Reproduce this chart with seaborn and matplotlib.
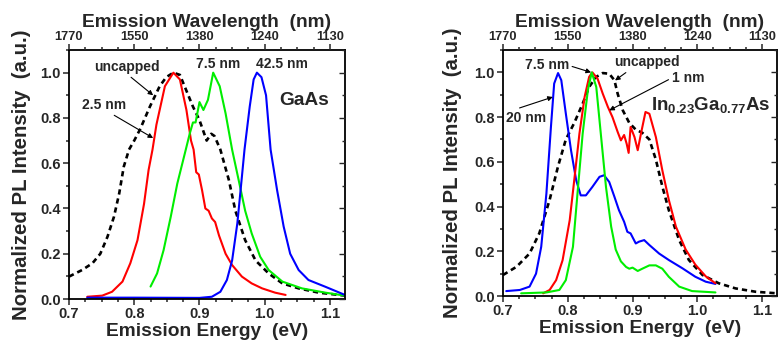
import matplotlib
matplotlib.use("Agg")
import matplotlib.pyplot as plt
import seaborn as sns
from matplotlib.ticker import MultipleLocator

sns.set_style("ticks")
plt.rcParams['font.family'] = ['Liberation Sans', 'DejaVu Sans']
plt.rcParams['font.weight'] = 'bold'
plt.rcParams['axes.labelweight'] = 'bold'
plt.rcParams['mathtext.fontset'] = 'custom'
plt.rcParams['mathtext.rm'] = 'Liberation Sans:bold'
plt.rcParams['mathtext.bf'] = 'Liberation Sans:bold'
plt.rcParams['mathtext.it'] = 'Liberation Sans:bold'

# ---------------- data: GaAs panel ----------------
gaas_uncapped_x = [0.700, 0.720, 0.736, 0.748, 0.759, 0.769, 0.777, 0.784, 0.792, 0.800, 0.809,
                   0.824, 0.839, 0.849, 0.860, 0.870, 0.880, 0.890, 0.900, 0.911, 0.918, 0.923,
                   0.932, 0.945, 0.955, 0.970, 0.986, 1.006, 1.027, 1.052, 1.083, 1.123]
gaas_uncapped_y = [0.099, 0.128, 0.158, 0.200, 0.275, 0.364, 0.467, 0.585, 0.660, 0.700, 0.750,
                   0.850, 0.940, 0.980, 1.000, 0.990, 0.920, 0.850, 0.790, 0.700, 0.730, 0.720,
                   0.660, 0.526, 0.390, 0.260, 0.170, 0.113, 0.069, 0.047, 0.028, 0.015]

gaas_25_x = [0.728, 0.751, 0.766, 0.782, 0.794, 0.805, 0.815, 0.822, 0.828, 0.834, 0.847,
             0.860, 0.870, 0.880, 0.887, 0.891, 0.895, 0.899, 0.904, 0.909, 0.914, 0.919,
             0.924, 0.930, 0.940, 0.950, 0.965, 0.980, 0.996, 1.016, 1.032]
gaas_25_y = [0.010, 0.015, 0.032, 0.077, 0.158, 0.260, 0.420, 0.570, 0.660, 0.770, 0.940,
             1.000, 0.970, 0.835, 0.700, 0.660, 0.560, 0.550, 0.480, 0.400, 0.390, 0.356,
             0.340, 0.280, 0.200, 0.150, 0.099, 0.069, 0.047, 0.028, 0.018]

gaas_75_x = [0.825, 0.835, 0.845, 0.856, 0.866, 0.879, 0.885, 0.890, 0.894, 0.900, 0.906,
             0.913, 0.921, 0.931, 0.940, 0.950, 0.960, 0.970, 0.980, 0.993, 1.006, 1.027,
             1.057, 1.093, 1.123]
gaas_75_y = [0.055, 0.113, 0.216, 0.364, 0.510, 0.660, 0.730, 0.780, 0.780, 0.870, 0.835,
             0.880, 1.000, 0.940, 0.820, 0.660, 0.526, 0.390, 0.290, 0.187, 0.128, 0.077,
             0.047, 0.028, 0.015]

gaas_425_x = [0.728, 0.800, 0.900, 0.919, 0.932, 0.942, 0.950, 0.958, 0.965, 0.969, 0.977,
              0.983, 0.988, 0.995, 1.002, 1.009, 1.019, 1.029, 1.039, 1.052, 1.067, 1.093, 1.123]
gaas_425_y = [0.006, 0.006, 0.005, 0.010, 0.032, 0.084, 0.170, 0.334, 0.540, 0.660, 0.850,
              0.970, 1.000, 0.980, 0.900, 0.660, 0.480, 0.320, 0.200, 0.128, 0.084, 0.054, 0.018]

# ---------------- data: InGaAs panel ----------------
ingaas_uncapped_x = [0.700, 0.721, 0.741, 0.756, 0.772, 0.785, 0.797, 0.810, 0.823, 0.833, 0.844,
                     0.854, 0.864, 0.872, 0.877, 0.885, 0.895, 0.905, 0.915, 0.926, 0.936, 0.946,
                     0.956, 0.972, 0.987, 1.008, 1.033, 1.059, 1.090, 1.123]
ingaas_uncapped_y = [0.094, 0.131, 0.190, 0.280, 0.430, 0.580, 0.700, 0.774, 0.860, 0.935, 0.980,
                     0.997, 0.994, 0.965, 0.905, 0.830, 0.774, 0.744, 0.730, 0.700, 0.610, 0.490,
                     0.384, 0.250, 0.161, 0.094, 0.057, 0.034, 0.019, 0.012]

ingaas_1_x = [0.762, 0.772, 0.782, 0.792, 0.803, 0.810, 0.818, 0.826, 0.833, 0.838, 0.846,
              0.854, 0.862, 0.869, 0.877, 0.882, 0.887, 0.891, 0.894, 0.897, 0.903, 0.908,
              0.913, 0.920, 0.926, 0.936, 0.946, 0.956, 0.967, 0.982, 0.997, 1.013, 1.028]
ingaas_1_y = [0.012, 0.027, 0.071, 0.160, 0.339, 0.518, 0.726, 0.890, 0.980, 1.000, 0.972,
              0.905, 0.845, 0.800, 0.734, 0.696, 0.720, 0.680, 0.640, 0.756, 0.711, 0.652,
              0.726, 0.823, 0.815, 0.711, 0.562, 0.430, 0.310, 0.208, 0.140, 0.088, 0.057]

ingaas_75_x = [0.728, 0.767, 0.787, 0.797, 0.808, 0.815, 0.823, 0.831, 0.837, 0.844, 0.851,
               0.859, 0.867, 0.874, 0.882, 0.890, 0.895, 0.900, 0.908, 0.915, 0.926, 0.936,
               0.946, 0.956, 0.972, 0.992, 1.028]
ingaas_75_y = [0.012, 0.016, 0.027, 0.071, 0.220, 0.458, 0.726, 0.920, 1.000, 0.935, 0.726,
               0.488, 0.310, 0.208, 0.155, 0.130, 0.122, 0.127, 0.112, 0.122, 0.137, 0.137,
               0.122, 0.086, 0.042, 0.022, 0.016]

ingaas_20_x = [0.705, 0.726, 0.741, 0.751, 0.759, 0.767, 0.774, 0.779, 0.785, 0.790, 0.797,
               0.805, 0.813, 0.820, 0.828, 0.838, 0.849, 0.856, 0.864, 0.872, 0.879, 0.887,
               0.892, 0.897, 0.905, 0.910, 0.918, 0.926, 0.941, 0.956, 0.977, 0.997, 1.013, 1.028]
ingaas_20_y = [0.022, 0.027, 0.042, 0.100, 0.220, 0.458, 0.756, 0.950, 0.997, 0.965, 0.816,
               0.652, 0.518, 0.450, 0.450, 0.488, 0.533, 0.540, 0.510, 0.444, 0.384, 0.332,
               0.287, 0.280, 0.235, 0.243, 0.250, 0.228, 0.190, 0.161, 0.124, 0.086, 0.064, 0.054]

xticks = [0.7, 0.8, 0.9, 1.0, 1.1]
xtick_labels = ["0.7", "0.8", "0.9", "1.0", "1.1"]
top_labels = ["1770", "1550", "1380", "1240", "1130"]
yticks = [0.0, 0.2, 0.4, 0.6, 0.8, 1.0]

RED = "#ff0000"
GREEN = "#00ee00"
BLUE = "#0000ff"

fig = plt.figure(figsize=(7.83, 3.45), dpi=100)
axL = fig.add_axes([0.0881, 0.1333, 0.3525, 0.7217])
axR = fig.add_axes([0.6424, 0.142, 0.3499, 0.713])

def style_axes(ax, ypad):
    ax.set_xlim(0.7, 1.123)
    ax.set_ylim(0.0, 1.1)
    ax.set_xticks(xticks)
    ax.set_xticklabels(xtick_labels)
    ax.set_yticks(yticks)
    ax.set_yticklabels([f"{v:.1f}" for v in yticks])
    ax.xaxis.set_minor_locator(MultipleLocator(0.025))
    ax.yaxis.set_minor_locator(MultipleLocator(0.1))
    for s in ax.spines.values():
        s.set_linewidth(1.3)
        s.set_color("black")
        s.set_visible(True)
    ax.tick_params(axis='x', which='both', direction='out', bottom=True, top=False,
                   labelsize=10.5, width=1.1, pad=2)
    ax.tick_params(axis='x', which='major', length=4)
    ax.tick_params(axis='x', which='minor', length=2.5)
    ax.tick_params(axis='y', which='both', direction='out', left=True, right=False,
                   labelsize=10.5, width=1.1, pad=2)
    ax.tick_params(axis='y', which='major', length=4)
    ax.tick_params(axis='y', which='minor', length=2.5)
    for lbl in ax.get_xticklabels() + ax.get_yticklabels():
        lbl.set_fontweight('bold')
    ax.set_xlabel("Emission Energy  (eV)", fontsize=13.8, fontweight='bold', labelpad=1.5)
    ax.set_ylabel("Normalized PL Intensity  (a.u.)", fontsize=14.7, fontweight='bold',
                  labelpad=ypad)
    axr = ax.twinx()
    axr.set_ylim(0.0, 1.1)
    axr.set_yticks(yticks)
    axr.yaxis.set_minor_locator(MultipleLocator(0.1))
    axr.tick_params(axis='y', which='both', direction='in', labelright=False, width=1.0)
    axr.tick_params(axis='y', which='major', length=4)
    axr.tick_params(axis='y', which='minor', length=2.5)
    for s in axr.spines.values():
        s.set_visible(False)
    axt = ax.twiny()
    axt.set_xlim(0.7, 1.123)
    axt.set_xticks(xticks)
    axt.set_xticklabels(top_labels)
    axt.xaxis.set_minor_locator(MultipleLocator(0.025))
    axt.tick_params(axis='x', which='both', direction='out', labelsize=9.3, width=1.1, pad=1)
    axt.tick_params(axis='x', which='major', length=4)
    axt.tick_params(axis='x', which='minor', length=2.5)
    for lbl in axt.get_xticklabels():
        lbl.set_fontweight('bold')
    for s in axt.spines.values():
        s.set_visible(False)
    axt.set_xlabel("Emission Wavelength  (nm)", fontsize=13.8, fontweight='bold', labelpad=3)

def dashed(ax, x, y):
    sns.lineplot(x=x, y=y, ax=ax, color="black", lw=1.9, sort=False,
                 linestyle=(0, (2.0, 1.5)))

def solid(ax, x, y, c):
    sns.lineplot(x=x, y=y, ax=ax, color=c, lw=1.5, sort=False)

# Left panel
dashed(axL, gaas_uncapped_x, gaas_uncapped_y)
solid(axL, gaas_25_x, gaas_25_y, RED)
solid(axL, gaas_75_x, gaas_75_y, GREEN)
solid(axL, gaas_425_x, gaas_425_y, BLUE)
style_axes(axL, 6.5)

ann = dict(fontsize=10, fontweight='bold', ha='center', va='center')
arrow = dict(arrowstyle='-|>', color='black', lw=0.8, mutation_scale=7, shrinkA=0, shrinkB=0)
axL.annotate("uncapped", xy=(0.829, 0.90), xytext=(0.789, 1.025),
             textcoords='data', arrowprops=dict(arrow, relpos=(0.5, 0.0)), **ann)
axL.annotate("2.5 nm", xy=(0.829, 0.711), xytext=(0.754, 0.857),
             textcoords='data', arrowprops=dict(arrow, relpos=(0.6, 0.0)), **ann)
axL.text(0.929, 1.038, "7.5 nm", **ann)
axL.text(1.027, 1.040, "42.5 nm", **ann)
axL.text(1.061, 0.875, "GaAs", fontsize=13.8, fontweight='bold', ha='center', va='center')

# Right panel
dashed(axR, ingaas_uncapped_x, ingaas_uncapped_y)
solid(axR, ingaas_20_x, ingaas_20_y, BLUE)
solid(axR, ingaas_1_x, ingaas_1_y, RED)
solid(axR, ingaas_75_x, ingaas_75_y, GREEN)
style_axes(axR, 8.5)

axR.annotate("7.5 nm", xy=(0.836, 1.0), xytext=(0.7675, 1.031),
             textcoords='data', arrowprops=dict(arrow, relpos=(1.0, 0.5)), **ann)
axR.annotate("uncapped", xy=(0.873, 0.964), xytext=(0.922, 1.045),
             textcoords='data', arrowprops=dict(arrow, relpos=(0.25, 0.0)), **ann)
axR.annotate("1 nm", xy=(0.864, 0.83), xytext=(0.9857, 0.975),
             textcoords='data', arrowprops=dict(arrow, relpos=(0.0, 0.5)), **ann)
axR.annotate("20 nm", xy=(0.777, 0.89), xytext=(0.735, 0.795),
             textcoords='data', arrowprops=dict(arrow, relpos=(0.1, 1.0)), **ann)
axR.text(1.021, 0.853, r"In$_{0.23}$Ga$_{0.77}$As", fontsize=13.5, fontweight='bold',
         ha='center', va='center')

fig.savefig("out.png", dpi=100)
